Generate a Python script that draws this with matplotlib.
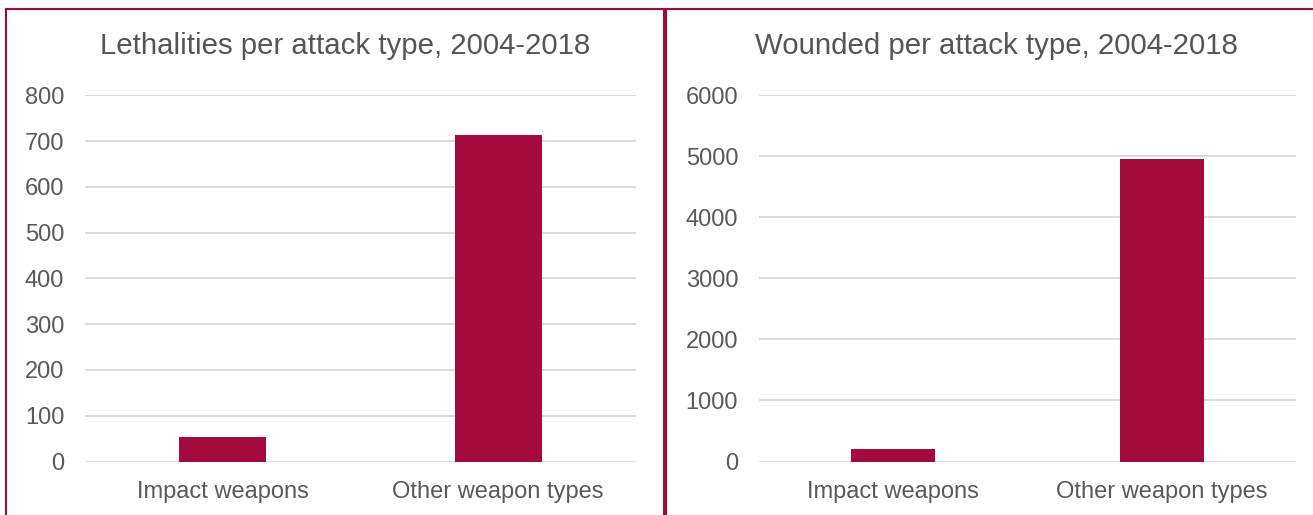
import matplotlib.pyplot as plt
from matplotlib.patches import Rectangle

plt.rcParams['font.family'] = ['Liberation Sans', 'DejaVu Sans']

categories = ["Impact weapons", "Other weapon types"]
lethalities = [53, 713]
wounded = [197, 4955]

lethal_ticks = [0, 100, 200, 300, 400, 500, 600, 700, 800]
wounded_ticks = [0, 1000, 2000, 3000, 4000, 5000, 6000]

bar_color = "#a50a3c"
text_color = "#595959"
grid_color = "#d9d9d9"

W, H = 1313, 515
fig = plt.figure(figsize=(W / 100, H / 100), dpi=100)

# panel frames, open at the bottom edge
fig.patches.append(Rectangle((6 / W, -0.1), 658 / W, 0.1 + (H - 9) / H, transform=fig.transFigure,
                             fill=False, edgecolor=bar_color, linewidth=1.5))
fig.patches.append(Rectangle((666 / W, -0.1), 700 / W, 0.1 + (H - 9) / H, transform=fig.transFigure,
                             fill=False, edgecolor=bar_color, linewidth=1.5))


def draw_panel(rect, values, ticks, title, title_x):
    ax = fig.add_axes(rect)
    x = range(len(categories))
    ax.bar(x, values, width=0.314, color=bar_color, zorder=3)
    ax.set_xlim(-0.5, len(categories) - 0.5)
    ax.set_ylim(ticks[0], ticks[-1])
    ax.set_yticks(ticks)
    ax.set_xticks(list(x))
    ax.set_xticklabels(categories)
    ax.yaxis.grid(True, color=grid_color, linewidth=1.3, zorder=0)
    for s in ax.spines.values():
        s.set_visible(False)
    ax.tick_params(axis="both", length=0, labelsize=17, colors=text_color)
    ax.tick_params(axis="y", pad=15)
    ax.tick_params(axis="x", pad=14)
    fig.text(title_x / W, 1 - 46 / H, title, ha="center", va="center",
             fontsize=21.2, color="#555555")
    return ax


draw_panel([85 / W, 53.5 / H, 551 / W, 366.2 / H], lethalities, lethal_ticks,
           "Lethalities per attack type, 2004-2018", 345)
draw_panel([759 / W, 53.5 / H, 537 / W, 366.2 / H], wounded, wounded_ticks,
           "Wounded per attack type, 2004-2018", 996)

fig.savefig("out.png", dpi=100)
